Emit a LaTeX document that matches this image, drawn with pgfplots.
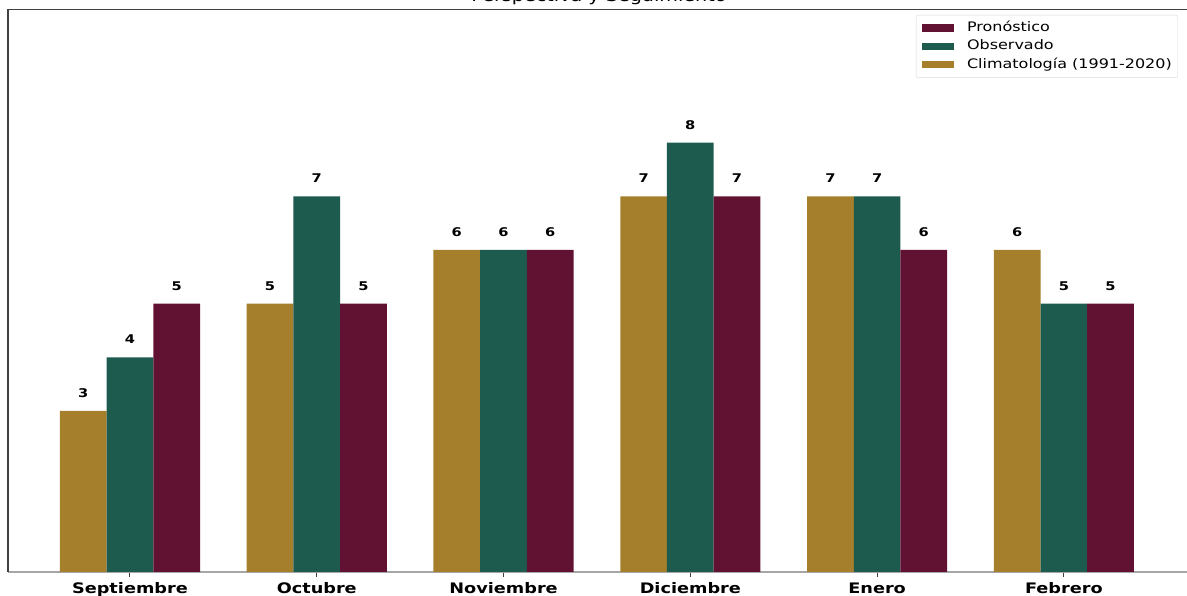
\documentclass[border=0pt]{standalone}
\usepackage{fontspec}
\setmainfont{DejaVu Sans}[FakeStretch=1.22]
\usepackage{pgfplots}
\pgfplotsset{compat=1.18}
\definecolor{clim}{HTML}{A57F2C}
\definecolor{obs}{HTML}{1E5B4F}
\definecolor{pron}{HTML}{611232}
\begin{document}
\begin{tikzpicture}
\path[use as bounding box] (0,0) rectangle (1187pt,596pt);
\begin{axis}[
  at={(8pt,24pt)}, anchor=south west,
  scale only axis, width=1182pt, height=562.5pt,
  xmin=-0.653, xmax=5.675, ymin=0, ymax=10.48,
  axis x line*=bottom, axis y line*=left,
  x axis line style={-, draw=black!35, line width=1.2pt},
  y axis line style={-, draw=black!75, line width=1.2pt},
  after end axis/.code={\draw[black!75, line width=1.2pt] (rel axis cs:0,1) -- (rel axis cs:1,1);},
  ytick=\empty,
  xtick={0,1,2,3,4,5},
  xtick pos=left,
  xticklabels={Septiembre,Octubre,Noviembre,Diciembre,Enero,Febrero},
  xticklabel style={font=\fontsize{14.5}{17}\selectfont\bfseries, anchor=base, yshift=-16.8pt},
  tick align=outside, major tick length=5pt,
  xtick style={draw=black!75, line width=1pt},
  ybar, bar width=0.25, bar shift=0pt,
  nodes near coords={\pgfmathprintnumber[assume math mode=true]{\pgfplotspointmeta}},
  nodes near coords style={font=\fontsize{12}{14}\selectfont\bfseries, anchor=base, yshift=13.4pt, text=black},
  title={Perspectiva y Seguimiento},
  title style={font=\fontsize{15.7}{18}\selectfont, anchor=base, at={(0.5,1)}, yshift=1.5pt, inner sep=0pt},
  legend image code/.code={\fill[#1, sharp corners] (0pt,-3.65pt) rectangle (32pt,3.65pt);},
  legend cell align=left,
  reverse legend,
  legend style={at={(1,1)}, anchor=north east, xshift=-12pt, yshift=-5.5pt,
    draw=black!15, rounded corners=2pt, fill=white,
    font=\fontsize{13.1}{15}\selectfont,
    inner xsep=6pt, inner ysep=6.5pt, row sep=5.8pt,
    nodes={inner sep=0pt, text height=9.8pt, text depth=2.8pt},
    /tikz/every odd column/.append style={column sep=13pt}},
]
\addplot[fill=clim, draw=none] coordinates {(-0.25,3) (0.75,5) (1.75,6) (2.75,7) (3.75,7) (4.75,6)};
\addlegendentry{Climatología (1991-2020)}
\addplot[fill=obs, draw=none] coordinates {(0,4) (1,7) (2,6) (3,8) (4,7) (5,5)};
\addlegendentry{Observado}
\addplot[fill=pron, draw=none] coordinates {(0.25,5) (1.25,5) (2.25,6) (3.25,7) (4.25,6) (5.25,5)};
\addlegendentry{Pronóstico}
\end{axis}
\end{tikzpicture}
\end{document}
